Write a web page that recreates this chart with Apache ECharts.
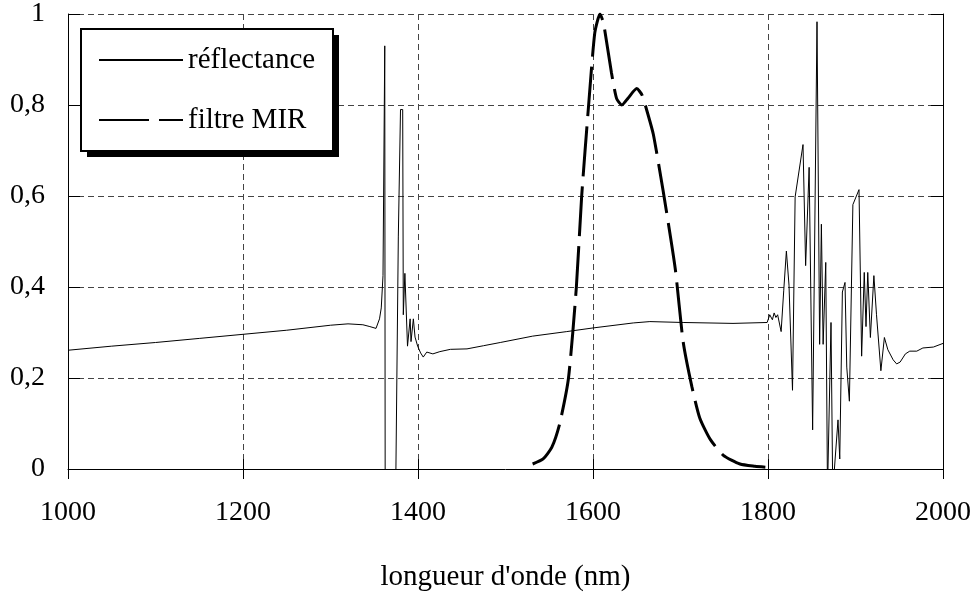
<!DOCTYPE html>
<html>
<head>
<meta charset="utf-8">
<script src="https://cdn.jsdelivr.net/npm/echarts@6/dist/echarts.min.js"></script>
<style>
html,body{margin:0;padding:0;background:#fff;}
#chart{width:978px;height:597px;}
</style>
</head>
<body>
<div id="chart"></div>
<script>
// Reflectance spectrum (wavelength nm, reflectance)
const reflWavelength = [1000,1050,1100,1150,1200,1250,1300,1320,1337,1345,1352,1356,1358,1360,1362,1362.5,1374.5,1377.5,1380,1382.5,1383.2,1385,1388,1391,1392,1394.7,1396.6,1399.6,1403,1406,1410,1417,1425,1437,1456,1475,1494,1531,1570,1600,1646,1665,1703,1760,1799,1802,1805,1807,1809,1811,1815,1818,1821,1824,1828,1831,1840,1843,1847,1851,1856,1859,1861,1863,1866,1868,1872,1874,1880,1882,1885,1888,1890,1891,1893,1897,1904,1907,1910,1912,1914,1917,1921,1924,1929,1933,1937,1943,1947,1951,1957,1962,1970,1977,1989,2000];
const reflValue = [0.261,0.270,0.278,0.287,0.296,0.305,0.316,0.319,0.317,0.313,0.309,0.330,0.354,0.425,0.93,-0.05,-0.05,0.51,0.79,0.79,0.339,0.43,0.27,0.33,0.28,0.33,0.29,0.27,0.255,0.246,0.257,0.253,0.258,0.263,0.264,0.271,0.278,0.292,0.302,0.310,0.321,0.324,0.322,0.320,0.322,0.339,0.328,0.343,0.333,0.339,0.302,0.393,0.479,0.404,0.173,0.598,0.713,0.447,0.663,0.086,0.983,0.274,0.538,0.274,0.454,-0.05,0.322,-0.05,0.108,0.022,0.389,0.41,0.224,0.22,0.149,0.581,0.614,0.248,0.432,0.313,0.432,0.289,0.425,0.339,0.216,0.289,0.262,0.240,0.231,0.235,0.253,0.259,0.259,0.266,0.268,0.276];
// MIR filter transmission
const filterWavelength = [1531,1543,1553,1562,1572,1581,1587,1595,1602,1608,1612,1621,1627,1633,1640,1650,1656,1663,1669,1680,1694,1703,1713,1722,1734,1749,1768,1785,1797];
const filterValue = [0.011,0.022,0.048,0.10,0.20,0.40,0.598,0.80,0.958,1.0,0.98,0.872,0.814,0.80,0.815,0.836,0.822,0.778,0.735,0.613,0.44,0.28,0.181,0.112,0.065,0.03,0.011,0.006,0.004];
const seriesNames = ['réflectance','filtre MIR'];
const xTicks = [1000,1200,1400,1600,1800,2000];
const yTicks = [0,0.2,0.4,0.6,0.8,1];

const FONT = 'Liberation Serif, Times New Roman, serif';
const chart = echarts.init(document.getElementById('chart'));
const gridDash = {color:'#444', width:1, type:[6,4]};

chart.setOption({
  animation:false,
  backgroundColor:'#fff',
  grid:{left:68,right:35,top:14,bottom:120,containLabel:false},
  legend:{
    orient:'vertical', left:98, top:44, padding:0,
    itemWidth:84, itemHeight:14, itemGap:28, z:10,
    itemStyle:{opacity:0},
    textStyle:{fontFamily:FONT,fontSize:29,color:'#000',lineHeight:32},
    data:seriesNames
  },
  graphic:[
    {type:'rect', z:8, left:87, top:35, shape:{width:252,height:122}, style:{fill:'#000'}},
    {type:'rect', z:9, left:80, top:28, shape:{width:252,height:122}, style:{fill:'#fff',stroke:'#000',lineWidth:2}}
  ],
  xAxis:[
    {type:'value',min:1000,max:2000,interval:200,position:'bottom',
     name:'longueur d\'onde (nm)',nameLocation:'middle',nameGap:94,
     nameTextStyle:{fontFamily:FONT,fontSize:29,color:'#000',verticalAlign:'top'},
     axisLine:{show:true,lineStyle:{color:'#000',width:1}},
     axisTick:{show:true,inside:true,length:10,lineStyle:{color:'#000'}},
     axisLabel:{margin:30,fontFamily:FONT,fontSize:28,color:'#000',formatter:v=>String(v)},
     splitLine:{show:true,lineStyle:gridDash}},
    {type:'value',min:1000,max:2000,interval:200,position:'top',
     axisLine:{show:false},
     axisTick:{show:true,inside:true,length:10,lineStyle:{color:'#000'}},
     axisLabel:{show:false},splitLine:{show:false}}
  ],
  yAxis:[
    {type:'value',min:0,max:1,interval:0.2,position:'left',
     axisLine:{show:true,lineStyle:{color:'#000',width:1}},
     axisTick:{show:true,inside:true,length:12,lineStyle:{color:'#000'}},
     axisLabel:{margin:23,fontFamily:FONT,fontSize:28,color:'#000',formatter:v=>String(Math.round(v*10)/10).replace('.',',')},
     splitLine:{show:true,lineStyle:gridDash}},
    {type:'value',min:0,max:1,interval:0.2,position:'right',
     axisLine:{show:true,lineStyle:{color:'#000',width:1}},
     axisTick:{show:true,inside:true,length:12,lineStyle:{color:'#000'}},
     axisLabel:{show:false},splitLine:{show:false}}
  ],
  series:[
    {name:seriesNames[0],type:'line',xAxisIndex:0,yAxisIndex:0,showSymbol:false,symbol:'none',clip:true,
     lineStyle:{color:'#000',width:1},itemStyle:{color:'#000'},
     data:reflWavelength.map((w,i)=>[w,reflValue[i]])},
    {name:seriesNames[1],type:'line',xAxisIndex:0,yAxisIndex:0,showSymbol:false,symbol:'none',clip:true,smooth:0.2,
     lineStyle:{color:'#000',width:3,type:[50,10]},itemStyle:{color:'#000'},
     data:filterWavelength.map((w,i)=>[w,filterValue[i]])}
  ]
});
</script>
</body>
</html>
